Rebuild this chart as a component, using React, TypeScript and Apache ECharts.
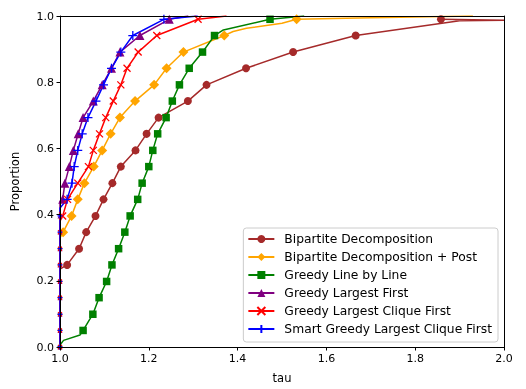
import React, { useEffect, useRef } from "react";
import * as echarts from "echarts";

// proportion levels at which markers are drawn (every 5th instance)
const levels = [0, 0.05, 0.099, 0.149, 0.198, 0.248, 0.297, 0.347, 0.396, 0.446, 0.495, 0.545, 0.594, 0.644, 0.693, 0.743, 0.792, 0.842, 0.891, 0.941, 0.99];

const seriesNames = [
  "Bipartite Decomposition",
  "Bipartite Decomposition + Post",
  "Greedy Line by Line",
  "Greedy Largest First",
  "Greedy Largest Clique First",
  "Smart Greedy Largest Clique First",
];

// tau at each marker level
const brownTau = [1, 1, 1, 1, 1, 1.016, 1.043, 1.059, 1.08, 1.098, 1.118, 1.137, 1.17, 1.195, 1.222, 1.288, 1.33, 1.419, 1.525, 1.666, 1.858];
const orangeTau = [1, 1, 1, 1, 1, 1, 1, 1.007, 1.026, 1.04, 1.055, 1.076, 1.095, 1.114, 1.135, 1.169, 1.212, 1.24, 1.278, 1.37, 1.533];
const greenTau = [1, 1.052, 1.074, 1.088, 1.105, 1.117, 1.132, 1.146, 1.158, 1.175, 1.185, 1.2, 1.209, 1.22, 1.239, 1.253, 1.269, 1.291, 1.321, 1.348, 1.473];
const purpleTau = [1, 1, 1, 1, 1, 1, 1, 1, 1, 1.006, 1.011, 1.021, 1.03, 1.041, 1.052, 1.075, 1.095, 1.116, 1.135, 1.18, 1.246];
const redTau = [1, 1, 1, 1, 1, 1, 1, 1, 1.006, 1.017, 1.04, 1.064, 1.075, 1.089, 1.103, 1.12, 1.137, 1.151, 1.176, 1.218, 1.311];
const blueTau = [1, 1, 1, 1, 1, 1, 1, 1, 1, 1.016, 1.027, 1.032, 1.04, 1.05, 1.063, 1.081, 1.098, 1.116, 1.137, 1.164, 1.234];

// extra (unmarked) points [tau, proportion]
const brownExtra = [[1.0, 0.235], [1.9, 0.986], [2.0, 0.987]];
const orangeExtra = [[1.0, 0.33], [1.39, 0.953], [1.42, 0.963], [1.5, 0.978], [1.7, 0.995], [1.93, 1.0]];
const greenExtra = [[1.0, 0.006], [1.008, 0.02], [1.045, 0.036], [1.368, 0.958], [1.55, 1.0]];
const purpleExtra = [[1.0, 0.44], [1.289, 1.0]];
const redExtra = [[1.0, 0.38], [1.375, 1.0]];
const blueExtra = [[1.0, 0.42], [1.31, 1.0]];

const xTicks = [1.0, 1.2, 1.4, 1.6, 1.8, 2.0];

function buildPoints(taus: number[], extras: number[][], size: number) {
  const pts: { v: number[]; m: boolean }[] = taus.map((t, i) => ({ v: [t, levels[i]], m: true }));
  extras.forEach((e) => pts.push({ v: e, m: false }));
  pts.sort((a, b) => a.v[1] - b.v[1] || a.v[0] - b.v[0]);
  return pts.map((p) => {
    if (!p.m) return { value: p.v, symbol: "none" };
    // markers sitting on the left spine are half hidden in the original
    if (p.v[0] <= 1.0) return { value: p.v, symbolSize: size * 0.55 };
    return { value: p.v };
  });
}

const FONT = "DejaVu Sans";

export default function App() {
  const ref = useRef<HTMLDivElement>(null);
  useEffect(() => {
    if (!ref.current) return;
    const chart = echarts.init(ref.current, undefined, { renderer: "svg" });
    const defs = [
      { name: seriesNames[0], taus: brownTau, extra: brownExtra, color: "#a52a2a", symbol: "circle", size: 8, bw: 0 },
      { name: seriesNames[1], taus: orangeTau, extra: orangeExtra, color: "#ffa500", symbol: "diamond", size: 10, bw: 0 },
      { name: seriesNames[2], taus: greenTau, extra: greenExtra, color: "#008000", symbol: "rect", size: 7.5, bw: 0 },
      { name: seriesNames[3], taus: purpleTau, extra: purpleExtra, color: "#800080", symbol: "triangle", size: 9, bw: 0 },
      { name: seriesNames[4], taus: redTau, extra: redExtra, color: "#ff0000", symbol: "path://M0,0L10,10M0,10L10,0", size: 7, bw: 1.3 },
      { name: seriesNames[5], taus: blueTau, extra: blueExtra, color: "#0000ff", symbol: "path://M5,0L5,10M0,5L10,5", size: 9, bw: 1.3 },
    ];
    const axisLineStyle = { color: "#000", width: 1 };
    chart.setOption({
      animation: false,
      grid: { left: 60, right: 22, top: 16, bottom: 42 },
      legend: {
        orient: "vertical",
        right: 28,
        bottom: 47,
        itemGap: 4,
        itemWidth: 26,
        itemHeight: 10,
        padding: [4, 6, 6, 4],
        borderColor: "#cccccc",
        borderWidth: 1,
        borderRadius: 3,
        backgroundColor: "rgba(255,255,255,0.85)",
        textStyle: { fontSize: 12.3, lineHeight: 14, fontFamily: FONT, color: "#000", padding: [0, 0, 0, 5] },
        data: seriesNames,
      },
      xAxis: [
        {
          type: "value",
          min: 1,
          max: 2,
          interval: 0.2,
          name: "tau",
          nameLocation: "middle",
          nameGap: 25,
          nameTextStyle: { fontSize: 11.5, fontFamily: FONT, color: "#000" },
          axisLine: { show: true, lineStyle: axisLineStyle },
          axisTick: { show: true, length: 3.5, inside: false, lineStyle: axisLineStyle },
          axisLabel: {
            fontSize: 11,
            fontFamily: FONT,
            color: "#000",
            margin: 6,
            formatter: (v: number) => (xTicks.some((t) => Math.abs(t - v) < 1e-6) ? v.toFixed(1) : ""),
          },
          splitLine: { show: false },
          z: 10,
        },
        {
          type: "value",
          position: "top",
          min: 1,
          max: 2,
          axisLine: { show: true, onZero: false, lineStyle: axisLineStyle },
          axisTick: { show: false },
          axisLabel: { show: false },
          splitLine: { show: false },
          z: 10,
        },
      ],
      yAxis: [
        {
          type: "value",
          min: 0,
          max: 1,
          interval: 0.2,
          name: "Proportion",
          nameLocation: "middle",
          nameGap: 39,
          nameTextStyle: { fontSize: 11.5, fontFamily: FONT, color: "#000" },
          axisLine: { show: true, onZero: false, lineStyle: axisLineStyle },
          axisTick: { show: true, length: 3.5, lineStyle: axisLineStyle },
          axisLabel: { fontSize: 11, fontFamily: FONT, color: "#000", margin: 6, formatter: (v: number) => v.toFixed(1) },
          splitLine: { show: false },
          z: 10,
        },
        {
          type: "value",
          position: "right",
          min: 0,
          max: 1,
          axisLine: { show: true, onZero: false, lineStyle: axisLineStyle },
          axisTick: { show: false },
          axisLabel: { show: false },
          splitLine: { show: false },
          z: 10,
        },
      ],
      series: defs.map((d) => ({
        type: "line",
        name: d.name,
        xAxisIndex: 0,
        yAxisIndex: 0,
        data: buildPoints(d.taus, d.extra, d.size),
        symbol: d.symbol,
        symbolSize: d.size,
        showSymbol: true,
        showAllSymbol: true,
        clip: true,
        lineStyle: { color: d.color, width: 1.5 },
        itemStyle: { color: d.color, borderColor: d.color, borderWidth: d.bw },
        emphasis: { disabled: true },
      })),
    });
    return () => chart.dispose();
  }, []);
  return <div ref={ref} style={{ position: "fixed", left: 0, top: 0, width: 526, height: 389 }} />;
}
